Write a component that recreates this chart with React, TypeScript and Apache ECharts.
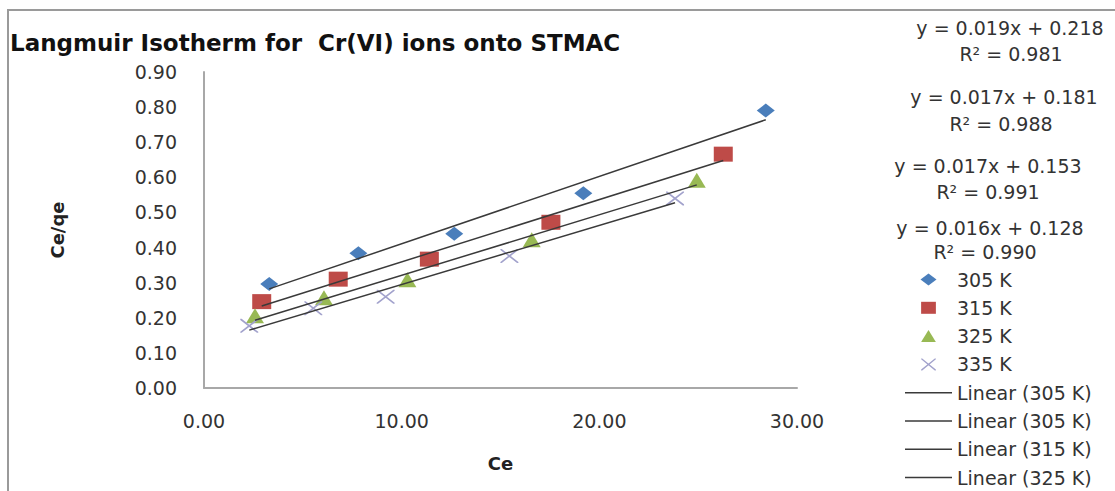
import React, { useEffect, useRef } from "react";
import * as echarts from "echarts";

// ---- data ----
const seriesNames = ["305 K", "315 K", "325 K", "335 K"];
const ce305 = [3.3, 7.81, 12.66, 19.19, 28.42];
const cq305 = [0.296, 0.384, 0.439, 0.555, 0.79];
const ce315 = [2.92, 6.79, 11.4, 17.55, 26.27];
const cq315 = [0.246, 0.31, 0.367, 0.472, 0.666];
const ce325 = [2.58, 6.07, 10.29, 16.58, 24.93];
const cq325 = [0.206, 0.257, 0.308, 0.422, 0.592];
const ce335 = [2.29, 5.53, 9.19, 15.45, 23.83];
const cq335 = [0.177, 0.227, 0.26, 0.376, 0.54];

const trendLabels = ["Linear (305 K)", "Linear (305 K)", "Linear (315 K)", "Linear (325 K)"];
const eqSlopes = ["0.019", "0.017", "0.017", "0.016"];
const eqIntercepts = ["0.218", "0.181", "0.153", "0.128"];
const r2Values = ["0.981", "0.988", "0.991", "0.990"];

const titleText = "Langmuir Isotherm for  Cr(VI) ions onto STMAC";
const xName = "Ce";
const yName = "Ce/qe";

// ---- styling ----
const FONT = "DejaVu Sans";
const colors = ["#4a7ebb", "#be4b48", "#98b954", "#a2a2cc"];
const trendColor = "#3a3a3a";
const symbols = [
  "path://M8,0L16,6L8,12L0,6Z",
  "path://M0,0H16V13H0Z",
  "path://M8,0L16,13H0Z",
  "path://M0,0L1.2,0L16,12L16,13L14.8,13L0,1ZM16,0L16,1L1.2,13L0,13L0,12L14.8,0Z",
];
const symbolSizes = [
  [18, 14],
  [19, 15],
  [18, 15],
  [18, 14],
];

const xs = [ce305, ce315, ce325, ce335];
const ys = [cq305, cq315, cq325, cq335];

function fit(x: number[], y: number[]) {
  const n = x.length;
  const mx = x.reduce((a, b) => a + b, 0) / n;
  const my = y.reduce((a, b) => a + b, 0) / n;
  let sxy = 0;
  let sxx = 0;
  for (let i = 0; i < n; i++) {
    sxy += (x[i] - mx) * (y[i] - my);
    sxx += (x[i] - mx) * (x[i] - mx);
  }
  const b = sxy / sxx;
  const a = my - b * mx;
  const x0 = Math.min(...x);
  const x1 = Math.max(...x);
  return [
    [x0, a + b * x0],
    [x1, a + b * x1],
  ];
}

// equation label positions (layout)
const eqPos = [
  [1010, 28, 1011, 54],
  [1004, 97, 1001, 124],
  [988, 166, 988, 192],
  [990, 228, 985, 252],
];

export default function App() {
  const ref = useRef<HTMLDivElement>(null);
  useEffect(() => {
    const chart = echarts.init(ref.current!, null, { renderer: "svg" });

    const scatterSeries = seriesNames.map((name, i) => ({
      name,
      type: "scatter",
      data: xs[i].map((x, j) => [x, ys[i][j]]),
      symbol: symbols[i],
      symbolSize: symbolSizes[i],
      itemStyle: { color: colors[i], opacity: 1 },
      z: 2,
    }));
    const trendSeries = trendLabels.map((_, i) => ({
      name: "trend" + i,
      type: "line",
      data: fit(xs[i], ys[i]),
      symbol: "none",
      lineStyle: { color: trendColor, width: 1.5 },
      itemStyle: { color: trendColor },
      z: 3,
    }));

    const eqGraphics: any[] = [];
    eqSlopes.forEach((s, i) => {
      eqGraphics.push({
        type: "text",
        x: eqPos[i][0],
        y: eqPos[i][1],
        style: {
          text: `y = ${s}x + ${eqIntercepts[i]}`,
          fontSize: 19,
          fontFamily: FONT,
          fill: "#333",
          align: "center",
          verticalAlign: "middle",
        },
      });
      eqGraphics.push({
        type: "text",
        x: eqPos[i][2],
        y: eqPos[i][3],
        style: {
          text: `R² = ${r2Values[i]}`,
          fontSize: 19,
          fontFamily: FONT,
          fill: "#333",
          align: "center",
          verticalAlign: "middle",
        },
      });
    });

    chart.setOption({
      animation: false,
      backgroundColor: "#fff",
      title: {
        text: titleText,
        left: 10,
        top: 31,
        padding: 0,
        textStyle: { fontFamily: FONT, fontSize: 23, fontWeight: "bold", color: "#111" },
      },
      grid: { left: 204, top: 72, right: 318, bottom: 103 },
      xAxis: {
        type: "value",
        min: 0,
        max: 30,
        interval: 10,
        name: xName,
        nameLocation: "middle",
        nameGap: 66,
        nameTextStyle: { fontFamily: FONT, fontSize: 18, fontWeight: "bold", color: "#222" },
        axisLine: { show: true, lineStyle: { color: "#a8a8a8", width: 2 } },
        axisTick: { show: false },
        splitLine: { show: false },
        axisLabel: {
          margin: 23,
          fontFamily: FONT,
          fontSize: 19,
          color: "#333",
          formatter: (v: number) => v.toFixed(2),
        },
      },
      yAxis: {
        type: "value",
        min: 0,
        max: 0.9,
        interval: 0.1,
        name: yName,
        nameLocation: "middle",
        nameGap: 138,
        nameTextStyle: { fontFamily: FONT, fontSize: 18, fontWeight: "bold", color: "#222" },
        axisLine: { show: true, lineStyle: { color: "#a8a8a8", width: 2 } },
        axisTick: { show: false },
        splitLine: { show: false },
        axisLabel: {
          margin: 27,
          fontFamily: FONT,
          fontSize: 19,
          color: "#333",
          formatter: (v: number) => v.toFixed(2),
        },
      },
      legend: {
        orient: "vertical",
        left: 905,
        top: 270,
        width: 210,
        height: 260,
        padding: 0,
        itemWidth: 47,
        itemHeight: 12,
        itemGap: 9.3,
        data: [
          ...seriesNames.map((name) => ({ name })),
          ...trendLabels.map((_, i) => ({
            name: "trend" + i,
            icon: "path://M0,0H47V1.5H0Z",
          })),
        ],
        formatter: (name: string) =>
          name.indexOf("trend") === 0 ? trendLabels[Number(name.slice(5))] : name,
        textStyle: { fontFamily: FONT, fontSize: 19, lineHeight: 19, color: "#333" },
        selectedMode: false,
      },
      graphic: [
        {
          type: "rect",
          shape: { x: 8, y: 10, width: 1200, height: 600 },
          style: { fill: "none", stroke: "#9a9a9a", lineWidth: 2 },
          silent: true,
        },
        ...eqGraphics,
      ],
      series: [...scatterSeries, ...trendSeries],
    });
    return () => chart.dispose();
  }, []);
  return (
    <div
      ref={ref}
      style={{ position: "fixed", left: 0, top: 0, width: 1115, height: 491 }}
    />
  );
}
